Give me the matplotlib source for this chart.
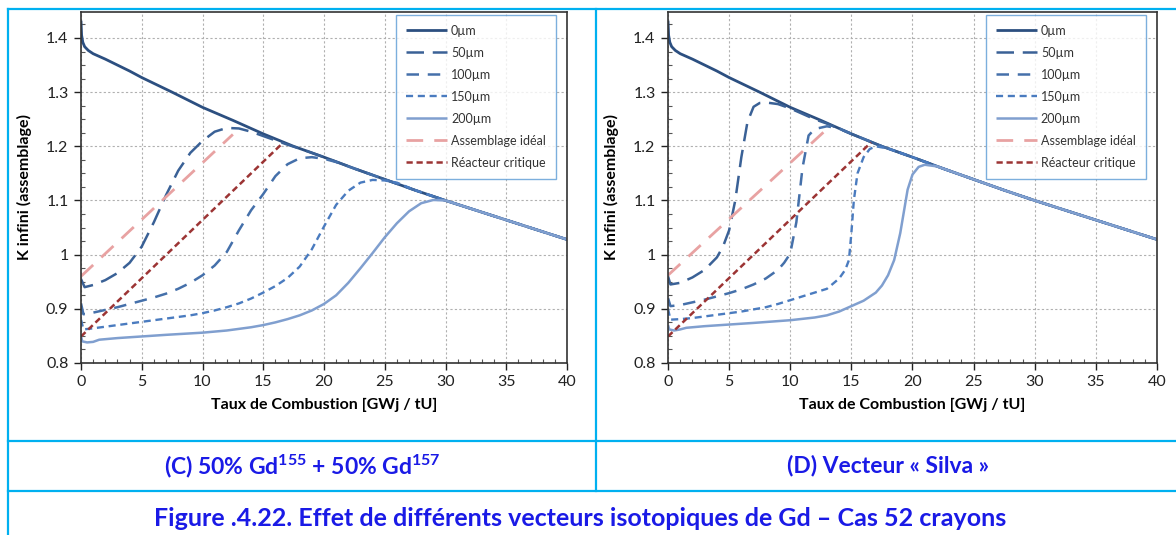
#!/usr/bin/env python3
"""K infini vs burnup for two Gd isotopic vectors (52 rods case)."""
import numpy as np
import matplotlib
matplotlib.use("Agg")
import matplotlib.pyplot as plt
from matplotlib.lines import Line2D
from matplotlib.ticker import MultipleLocator, FuncFormatter

plt.rcParams['font.family'] = ['Lato', 'DejaVu Sans']
plt.rcParams['mathtext.fontset'] = 'custom'
plt.rcParams['mathtext.rm'] = 'Lato:bold'
plt.rcParams['mathtext.it'] = 'Lato:bold'
plt.rcParams['mathtext.bf'] = 'Lato:bold'

# --- data ---------------------------------------------------------------
# 0 µm (reference, same in both panels)
bu_0um = [0, 0.05, 0.15, 0.3, 0.6, 1, 2, 3, 4, 5, 7.5, 10, 12.5, 15, 17.5,
          20, 22.5, 25, 27.5, 30, 32.5, 35, 37.5, 40]
k_0um = [1.432, 1.405, 1.392, 1.384, 1.377, 1.371, 1.361, 1.350, 1.339, 1.327,
         1.300, 1.272, 1.248, 1.223, 1.200, 1.180, 1.159, 1.139, 1.119, 1.100,
         1.082, 1.064, 1.046, 1.028]

# panel C : 50% Gd155 + 50% Gd157
c_bu_50 = [0, 0.3, 1, 2, 3, 4, 5, 6, 7, 8, 9, 10, 11, 12, 13, 14, 15, 16, 17, 18]
c_k_50 = [0.955, 0.940, 0.944, 0.953, 0.966, 0.985, 1.015, 1.060, 1.110, 1.155,
          1.188, 1.210, 1.227, 1.234, 1.233, 1.227, 1.219, 1.211, 1.203, 1.196]
c_bu_100 = [0, 0.2, 1, 2, 3, 4, 5, 6, 7, 8, 9, 10, 11, 12, 13, 14, 15, 16, 17,
            18, 19, 20, 21]
c_k_100 = [0.910, 0.890, 0.893, 0.898, 0.903, 0.909, 0.915, 0.921, 0.928, 0.937,
           0.948, 0.962, 0.980, 1.005, 1.045, 1.082, 1.112, 1.145, 1.167, 1.178,
           1.180, 1.177, 1.171]
c_bu_150 = [0, 0.2, 1, 2, 3, 4, 5, 6, 7, 8, 9, 10, 11, 12, 13, 14, 15, 16, 17,
            18, 19, 20, 21, 22, 23, 24, 25, 26]
c_k_150 = [0.880, 0.862, 0.864, 0.867, 0.870, 0.873, 0.876, 0.879, 0.882, 0.885,
           0.888, 0.892, 0.897, 0.903, 0.910, 0.919, 0.930, 0.942, 0.957, 0.978,
           1.010, 1.052, 1.092, 1.118, 1.133, 1.138, 1.137, 1.133]
c_bu_200 = [0, 0.1, 0.5, 1, 1.5, 2, 3, 5, 7, 10, 12, 14, 15, 16, 17, 18, 19, 20,
            21, 22, 23, 24, 25, 26, 27, 28, 29, 30]
c_k_200 = [0.850, 0.840, 0.838, 0.839, 0.843, 0.844, 0.846, 0.849, 0.852, 0.856,
           0.860, 0.866, 0.870, 0.875, 0.881, 0.888, 0.897, 0.909, 0.925, 0.948,
           0.975, 1.003, 1.032, 1.058, 1.080, 1.095, 1.101, 1.100]
c_bu_ideal = [0, 12.5]
c_k_ideal = [0.960, 1.222]
c_bu_crit = [0, 16.6]
c_k_crit = [0.849, 1.206]

# panel D : vecteur "Silva"
d_bu_50 = [0, 0.2, 1, 2, 3, 4, 4.5, 5, 5.5, 6, 6.5, 7, 7.5, 8, 9, 10, 11, 12, 13]
d_k_50 = [0.960, 0.945, 0.948, 0.958, 0.972, 0.995, 1.015, 1.045, 1.100, 1.180,
          1.245, 1.273, 1.280, 1.281, 1.278, 1.270, 1.260, 1.250, 1.242]
d_bu_100 = [0, 0.2, 1, 2, 3, 4, 5, 6, 7, 8, 9, 9.5, 10, 10.5, 11, 11.5, 12, 13,
            14, 15]
d_k_100 = [0.920, 0.905, 0.907, 0.912, 0.917, 0.923, 0.929, 0.936, 0.945, 0.956,
           0.972, 0.985, 1.002, 1.060, 1.160, 1.220, 1.232, 1.237, 1.233, 1.223]
d_bu_150 = [0, 0.2, 1, 2, 3, 4, 5, 6, 7, 8, 9, 10, 11, 12, 13, 14, 14.5, 14.8,
            15, 15.2, 15.5, 16, 16.5, 17, 18]
d_k_150 = [0.900, 0.880, 0.881, 0.883, 0.886, 0.889, 0.892, 0.895, 0.899, 0.903,
           0.909, 0.916, 0.923, 0.930, 0.937, 0.956, 0.972, 0.990, 1.040, 1.100,
           1.150, 1.180, 1.195, 1.200, 1.196]
d_bu_200 = [0, 0.1, 0.5, 1, 1.5, 2, 3, 5, 7, 10, 12, 13, 14, 15, 16, 17, 17.5,
            18, 18.5, 19, 19.3, 19.6, 20, 20.5, 21, 22]
d_k_200 = [0.870, 0.862, 0.860, 0.862, 0.865, 0.866, 0.868, 0.871, 0.874, 0.879,
           0.884, 0.888, 0.895, 0.905, 0.915, 0.930, 0.943, 0.962, 0.990, 1.040,
           1.080, 1.120, 1.148, 1.162, 1.166, 1.163]
d_bu_ideal = [0, 13.2]
d_k_ideal = [0.962, 1.236]
d_bu_crit = [0, 16.6]
d_k_crit = [0.849, 1.207]

labels = ['0µm', '50µm', '100µm', '150µm', '200µm',
          'Assemblage idéal', 'Réacteur critique']
captions = ['(C) 50% Gd$^{155}$ + 50% Gd$^{157}$', '(D) Vecteur « Silva »']
fig_title = 'Figure .4.22. Effet de différents vecteurs isotopiques de Gd – Cas 52 crayons'

styles = [
    dict(color='#2c4f80', lw=2.0, ls='-'),
    dict(color='#3a6196', lw=1.8, dashes=(7, 3.5)),
    dict(color='#4570aa', lw=1.8, dashes=(5, 3.5)),
    dict(color='#4a7bbf', lw=1.7, dashes=(3, 2)),
    dict(color='#809fcf', lw=1.8, ls='-'),
    dict(color='#e8a2a2', lw=2.0, dashes=(6, 4)),
    dict(color='#9c3434', lw=1.8, dashes=(2.5, 1.5)),
]


def with_tail(bu, k):
    # after a curve joins the 0 µm one it follows it
    bu0 = np.array(bu_0um)
    k0 = np.array(k_0um)
    m = bu0 > bu[-1]
    return np.concatenate([bu, bu0[m]]), np.concatenate([k, k0[m]])


panels = [
    [(bu_0um, k_0um), with_tail(c_bu_50, c_k_50), with_tail(c_bu_100, c_k_100),
     with_tail(c_bu_150, c_k_150), with_tail(c_bu_200, c_k_200),
     (c_bu_ideal, c_k_ideal), (c_bu_crit, c_k_crit)],
    [(bu_0um, k_0um), with_tail(d_bu_50, d_k_50), with_tail(d_bu_100, d_k_100),
     with_tail(d_bu_150, d_k_150), with_tail(d_bu_200, d_k_200),
     (d_bu_ideal, d_k_ideal), (d_bu_crit, d_k_crit)],
]

W, H = 1176, 535
fig = plt.figure(figsize=(W / 100, H / 100), dpi=100)

boxes = [(81, 12, 567, 363), (668, 12, 1157, 363)]
for (x0, y0, x1, y1), series in zip(boxes, panels):
    ax = fig.add_axes([x0 / W, 1 - y1 / H, (x1 - x0) / W, (y1 - y0) / H])
    for (bu, k), st, lab in zip(series, styles, labels):
        ax.plot(bu, k, label=lab, solid_capstyle='butt', **st)
    ax.set_xlim(0, 40)
    ax.set_ylim(0.8, 1.448)
    ax.xaxis.set_major_locator(MultipleLocator(5))
    ax.xaxis.set_minor_locator(MultipleLocator(1))
    ax.yaxis.set_major_locator(MultipleLocator(0.1))
    ax.yaxis.set_minor_locator(MultipleLocator(0.025))
    ax.yaxis.set_major_formatter(FuncFormatter(lambda v, p: '%g' % round(v, 2)))
    ax.tick_params(which='major', direction='out', length=5, width=1,
                   labelsize=11.5, colors='#222222', pad=4)
    ax.tick_params(which='minor', direction='in', length=3, width=0.8,
                   colors='#555555')
    ax.grid(True, which='major', color='#b0b0b0', lw=0.8, dashes=(2, 2))
    for sp in ax.spines.values():
        sp.set_color('#333333')
        sp.set_linewidth(1.2)
    ax.set_xlabel('Taux de Combustion [GWj / tU]', fontsize=11.5,
                  fontweight='bold', labelpad=6)
    ax.set_ylabel('K infini (assemblage)', fontsize=11.5, fontweight='bold',
                  labelpad=10)
    leg = ax.legend(loc='upper right', bbox_to_anchor=(0.977, 0.992),
                    fontsize=9, frameon=True, fancybox=False,
                    handlelength=3.3, handletextpad=0.3, labelspacing=0.8,
                    borderpad=0.8, borderaxespad=0)
    leg.get_frame().set_edgecolor('#5b9bd5')
    leg.get_frame().set_linewidth(1.0)
    for t in leg.get_texts():
        t.set_color('#333333')

# table frame of the report page
cyan = '#00b0f0'
def hline(y, xa=8, xb=W):
    fig.add_artist(Line2D([xa / W, xb / W], [1 - y / H, 1 - y / H],
                          color=cyan, lw=1.6, transform=fig.transFigure))
def vline(x, ya, yb):
    fig.add_artist(Line2D([x / W, x / W], [1 - ya / H, 1 - yb / H],
                          color=cyan, lw=1.6, transform=fig.transFigure))

hline(9)
hline(441)
hline(491)
vline(8, 9, H)
vline(596, 9, 491)

fig.text(302 / W, 1 - 466 / H, captions[0], ha='center', va='center',
         fontsize=16.5, fontweight='bold', color='#1a1ae6')
fig.text(888 / W, 1 - 466 / H, captions[1], ha='center', va='center',
         fontsize=16.5, fontweight='bold', color='#1a1ae6')
fig.text(580 / W, 1 - 518 / H, fig_title, ha='center', va='center',
         fontsize=18, fontweight='bold', color='#1a1ae6')

fig.savefig('out.png', dpi=100)
plt.close(fig)
